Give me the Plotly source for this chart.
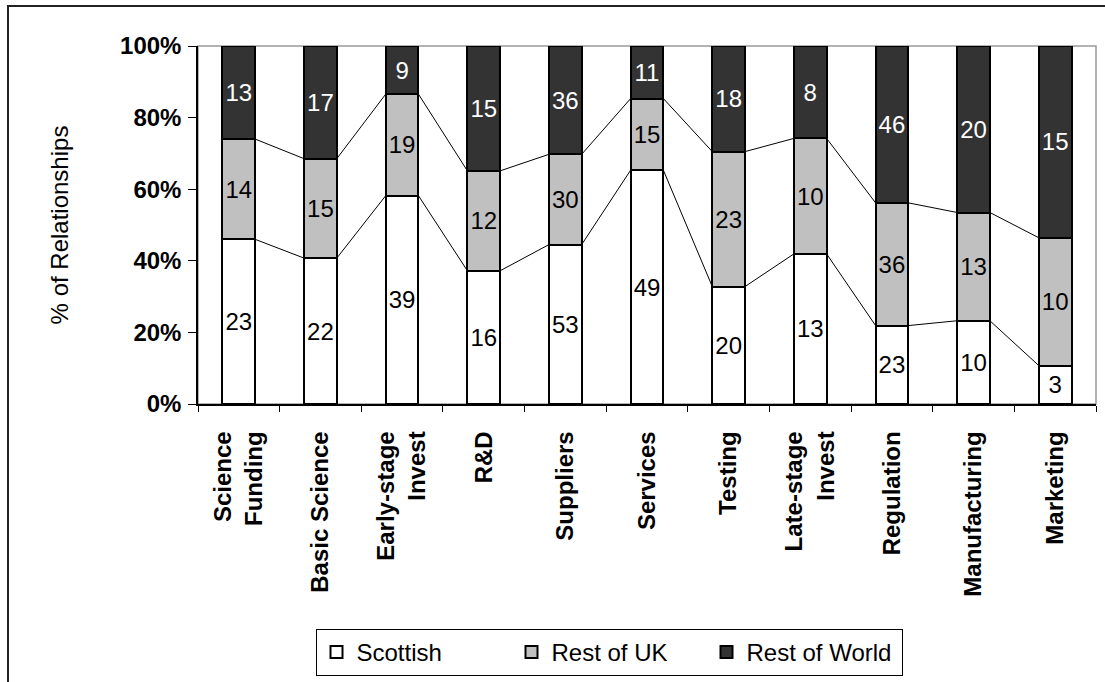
import numpy as np
import plotly.graph_objects as go

categories = ["Science<br>Funding", "Basic Science", "Early-stage<br>Invest", "R&D",
              "Suppliers", "Services", "Testing", "Late-stage<br>Invest",
              "Regulation", "Manufacturing", "Marketing"]
scottish = [23, 22, 39, 16, 53, 49, 20, 13, 23, 10, 3]
rest_uk = [14, 15, 19, 12, 30, 15, 23, 10, 36, 13, 10]
rest_world = [13, 17, 9, 15, 36, 11, 18, 8, 46, 20, 15]
y_ticks = [0, 0.2, 0.4, 0.6, 0.8, 1.0]

FONT = "Arial, Liberation Sans, sans-serif"
FS = 24
W, H = 1105, 682
L, R, T, B = 198, 9, 46, 278
BAR_W = 0.4

counts = np.array([scottish, rest_uk, rest_world], dtype=float)
totals = counts.sum(axis=0)
shares = counts / totals
cum = np.cumsum(shares, axis=0)
xs = np.arange(len(categories))

series = [
    ("Scottish", scottish, "#FFFFFF", "black"),
    ("Rest of UK", rest_uk, "#C0C0C0", "black"),
    ("Rest of World", rest_world, "#333333", "white"),
]

fig = go.Figure()
for k, (name, vals, color, tcolor) in enumerate(series):
    fig.add_trace(go.Bar(
        x=xs, y=shares[k], name=name, width=BAR_W,
        marker=dict(color=color, line=dict(color="black", width=2)),
        text=[str(v) for v in vals], textposition="inside",
        insidetextanchor="middle", textangle=0,
        textfont=dict(family=FONT, size=FS, color=tcolor),
        constraintext="none", cliponaxis=False, hoverinfo="skip",
    ))

# series lines connecting the bars
for k in range(2):
    lx, ly = [], []
    for i in range(len(categories) - 1):
        lx += [xs[i] + BAR_W / 2, xs[i + 1] - BAR_W / 2, None]
        ly += [cum[k][i], cum[k][i + 1], None]
    fig.add_trace(go.Scatter(x=lx, y=ly, mode="lines", showlegend=False,
                             line=dict(color="black", width=1), hoverinfo="skip"))

pw = W - L - R
ph = H - T - B
fig.update_layout(
    width=W, height=H, barmode="stack",
    margin=dict(l=L, r=R, t=T, b=B, autoexpand=False),
    paper_bgcolor="white", plot_bgcolor="white",
    font=dict(family=FONT, size=FS, color="black"),
    legend=dict(orientation="h", x=(609 - L) / pw, xanchor="center",
                y=(T + ph - 629) / ph, yanchor="top",
                bordercolor="black", borderwidth=1, bgcolor="white",
                font=dict(family=FONT, size=FS, color="black"),
                entrywidth=150, traceorder="normal"),
    shapes=[
        dict(type="rect", xref="paper", yref="paper", x0=0, x1=1, y0=0, y1=1,
             line=dict(color="#999999", width=1.5), layer="below"),
        dict(type="rect", xref="paper", yref="paper",
             x0=(8 - L) / pw, x1=1.3, y0=-1.5, y1=(T + ph - 6) / ph,
             line=dict(color="#222222", width=2), layer="below"),
    ],
)
fig.update_xaxes(
    range=[-0.5, len(categories) - 0.5], tickmode="array", tickvals=xs,
    ticktext=categories, tickangle=-90, ticks="", ticklabelstandoff=16,
    tickfont=dict(family=FONT, size=FS, color="black", weight="bold"),
    showline=True, linecolor="black", linewidth=1.5, showgrid=False, zeroline=False,
    minor=dict(tickmode="array", tickvals=[i - 0.5 for i in range(len(categories) + 1)],
               ticks="outside", ticklen=6, tickcolor="black", tickwidth=1, showgrid=False),
)
fig.update_yaxes(
    range=[0, 1], tickmode="array", tickvals=y_ticks, tickformat=".0%",
    ticks="outside", ticklen=8, tickcolor="black", ticklabelstandoff=2,
    tickfont=dict(family=FONT, size=FS, color="black", weight="bold"),
    showline=True, linecolor="black", linewidth=1.5, showgrid=False, zeroline=False,
    title=dict(text="% of Relationships", font=dict(family=FONT, size=FS, color="black"),
               standoff=45),
)
fig.write_html("out.html")
